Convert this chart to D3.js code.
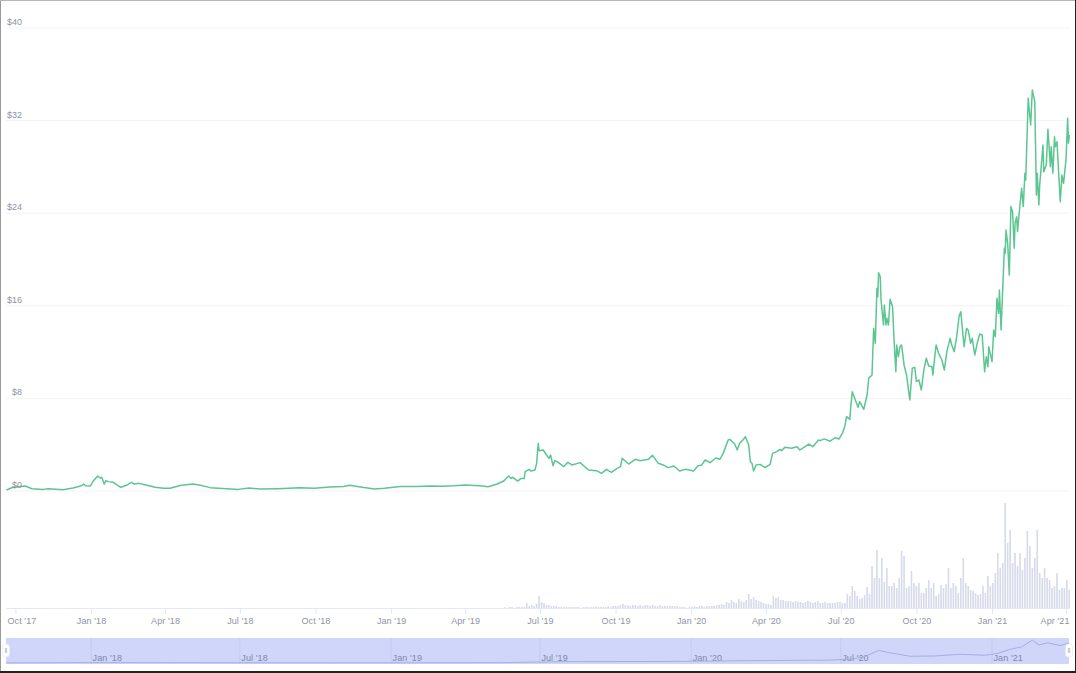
<!DOCTYPE html>
<html><head><meta charset="utf-8">
<script src="https://cdn.jsdelivr.net/npm/d3@7/dist/d3.min.js"></script>
<style>html,body{margin:0;padding:0;background:#fff}svg{display:block}text{font-family:"Liberation Sans",Arial,sans-serif}</style>
</head><body><svg id="c" width="1076" height="673"></svg>
<script>
// Day offsets since the first data day, and the price in USD on that day
const startDay = Date.UTC(2017, 8, 20);
const priceDaysEarly = [0,8,23,31,45,51,69,81,90,94,96,102,106,111,114,116,119,121,124,130,139,146,152,156,161,171,181,191,199,213,227,236,248,268,282,295,309,330,357,375,393,410,418,425,435,448,460,479,500,515,530,545,558,570];
const priceValuesEarly = [.09,.32,.43,.20,.14,.20,.11,.26,.43,.60,.46,.43,.89,1.30,1.12,1.18,.60,.89,.81,.75,.32,.49,.75,.60,.66,.49,.32,.23,.23,.49,.60,.49,.29,.20,.14,.26,.17,.20,.28,.24,.34,.38,.50,.42,.30,.17,.24,.39,.38,.43,.42,.45,.52,.48];
const priceDaysMid = [576,586,597,605,611,614,616,622,626,630,631,636,638,643,645,647,648,653,657,660,662,665,667,670,678,683,688,698,708,718,724,730,736,743,747,749,757,765,771,781,786,793,799,805,812,819,826,836,841,846,850,856,863,868,872,878,880,886,889,892,896,899,903,905,907,909,912,917,923,929,932,937,941,943,947,955,962,965,976,981,988,990,995,1002,1008,1013,1017,1020];
const priceValuesMid = [.46,.37,.60,.86,1.30,1.09,1.18,.86,1.09,1.09,1.67,1.87,1.73,1.81,2.39,4.12,3.48,3.54,3.11,2.82,3.11,2.19,2.62,2.53,2.10,2.48,2.25,2.45,1.81,1.76,1.53,1.87,1.61,1.96,2.10,2.82,2.33,2.74,2.62,2.74,3.08,2.39,2.25,2.02,2.16,1.73,1.87,1.73,2.16,2.25,2.68,2.45,2.85,2.74,3.25,4.41,4.46,4.06,3.54,4.12,4.41,4.69,3.97,2.53,2.39,1.73,2.25,2.30,2.02,2.30,3.25,3.40,3.60,3.49,3.77,3.69,3.83,3.54,4.06,3.83,4.41,4.35,4.50,4.30,4.60,4.50,5.00,5.60];
const priceDaysLate = [1022,1026,1027,1029,1032,1036,1038,1043,1047,1049,1053,1055,1057,1059,1060,1061,1063,1064,1067,1068,1070,1071,1073,1075,1078,1080,1082,1083,1085,1087,1089,1092,1095,1099,1102,1105,1107,1110,1113,1116,1119,1122,1126,1127,1130,1131,1134,1138,1141,1144,1148,1150,1153,1156,1159,1161,1165,1168,1170,1173,1175,1178,1181,1184,1187,1190,1192,1194,1195,1199,1201,1203,1205,1207,1208,1210,1214,1215,1216,1218,1220,1222,1224,1226,1227,1229,1230,1233,1235,1237,1239,1240,1243,1246,1248,1251,1253,1254,1256,1257,1261,1262,1265,1267,1270,1271,1273,1275,1276,1278,1282,1284,1286,1288,1289,1291,1292,1293];
const priceValuesLate = [6.42,6.19,7.14,8.58,8.00,7.23,7.72,7.06,8.29,9.73,10.02,14.05,12.76,17.51,16.79,18.86,18.52,16.50,14.34,16.07,14.34,14.92,14.34,16.56,15.93,12.76,10.31,12.61,11.60,12.47,12.61,10.89,10.02,7.86,10.60,10.68,9.45,9.59,8.73,10.45,11.46,10.80,10.74,10.02,12.04,12.61,11.89,11.32,10.45,12.04,13.19,12.61,12.04,13.33,15.12,15.49,12.47,14.05,13.91,12.76,13.19,11.75,12.76,13.56,13.48,10.31,11.60,10.74,12.47,11.17,13.91,13.33,16.65,15.35,17.37,13.91,20.97,20.53,22.55,21.40,18.66,24.57,24.13,20.97,23.13,23.70,22.41,24.71,26.15,24.57,27.45,26.87,33.93,31.62,34.65,33.64,25.57,27.45,24.71,26.44,29.89,27.59,28.17,31.25,28.02,29.75,27.45,30.61,29.75,30.18,24.99,27.30,26.58,27.96,28.60,32.20,30.04,30.76];
const priceDays = [...priceDaysEarly, ...priceDaysMid, ...priceDaysLate];
const priceValues = [...priceValuesEarly, ...priceValuesMid, ...priceValuesLate];

// Volume in USD millions, one value every third day from volumeStart
const volumeStart = 600, volumeStep = 3;
const volumeValues = [
0,0,50,0,50,50,0,50,50,50,50,250,100,150,100,200,600,300,250,150,
150,100,100,100,50,50,50,50,50,50,50,50,50,0,50,50,50,50,50,50,
50,50,50,50,100,50,100,100,100,150,200,150,150,100,150,150,100,150,100,150,
150,100,150,100,100,150,100,100,100,100,100,100,100,50,50,50,0,50,50,100,
50,100,100,50,100,100,100,100,150,150,200,150,300,250,400,300,250,450,350,300,
400,700,450,550,400,350,300,250,200,200,150,600,500,550,400,400,350,350,350,300,
350,300,300,250,300,350,300,250,300,350,250,250,300,250,250,250,250,300,300,250,
250,700,600,1100,850,600,450,500,650,1050,700,2100,1500,2900,1500,2500,1300,2000,1100,1100,
1250,1000,1500,2850,2600,1000,1100,1850,1250,1100,1250,750,750,1000,1400,1000,1250,600,700,1150,
1000,1200,2000,1000,1250,1100,750,1500,2500,1250,1100,900,850,750,650,700,1100,750,1600,1100,
1250,1750,2750,2000,2250,5250,3250,3900,2250,2750,2100,2750,1900,2500,3850,3100,2000,2500,3900,1750,
1500,2000,1500,1400,1000,1100,1750,900,1000,1000,1400,900];

// Smoothed overview series in the navigator
const navDays = [0,110,200,400,600,648,700,800,900,1000,1030,1045,1061,1075,1100,1130,1160,1190,1205,1220,1235,1248,1256,1267,1282,1293];
const navValues = [.2,.6,.4,.3,.4,1.5,2.1,2.2,3.4,4.3,6,10,18.8,15,10,10.5,13,11.5,14,20,24,34,27,30,26,30];

const yTicks = [0,8,16,24,32,40];
const xTickDates = [[2017,9],[2018,0],[2018,3],[2018,6],[2018,9],[2019,0],[2019,3],[2019,6],[2019,9],[2020,0],[2020,3],[2020,6],[2020,9],[2021,0],[2021,3]];
const navTickDates = [[2018,0],[2018,6],[2019,0],[2019,6],[2020,0],[2020,6],[2021,0]];
const months = ["Jan","Feb","Mar","Apr","May","Jun","Jul","Aug","Sep","Oct","Nov","Dec"];

const dayToDate = d => new Date(startDay + d * 864e5);
const fmt = d => `${months[d.getUTCMonth()]} '${String(d.getUTCFullYear()).slice(2)}`;
const toDate = ([y,m]) => new Date(Date.UTC(y,m,1));

const svg = d3.select("#c");
const x = d3.scaleUtc().domain([dayToDate(0), dayToDate(1293)]).range([6.4, 1069.3]);
const y = d3.scaleLinear().domain([0,40]).range([491,28]);
const yVol = d3.scaleLinear().domain([0,6000]).range([608,488]);
const yNav = d3.scaleLinear().domain([0,35]).range([663,639.5]);

// gridlines and price labels
const gridG = svg.append("g");
gridG.selectAll("line").data(yTicks).join("line")
  .attr("x1",6).attr("x2",1070).attr("y1",d=>y(d)).attr("y2",d=>y(d))
  .attr("stroke","#f3f3f6").attr("stroke-width",1);

// volume bars
svg.append("g").selectAll("rect").data(volumeValues).join("rect")
  .attr("x",(d,i)=>x(dayToDate(volumeStart+i*volumeStep))-0.8)
  .attr("width",1.6)
  .attr("y",d=>yVol(d)).attr("height",d=>608-yVol(d))
  .attr("fill","#d6daea");

// price line
svg.append("path").datum(priceDays)
  .attr("fill","none").attr("stroke","#5cc692").attr("stroke-width",1.5).attr("stroke-linejoin","round")
  .attr("d",d3.line().x(d=>x(dayToDate(d))).y((d,i)=>y(priceValues[i])));

gridG.raise();
svg.select("path").raise();

svg.append("g").selectAll("text").data(yTicks).join("text")
  .attr("x",22).attr("y",d=>y(d)-4).attr("dy","0.1em").attr("text-anchor","end")
  .attr("font-size",9).attr("fill","#8f93a3").text(d=>"$"+d);

// bottom axis
const axis = d3.axisBottom(x).tickValues(xTickDates.map(toDate)).tickFormat(fmt).tickSize(6).tickPadding(4);
const axG = svg.append("g").attr("transform","translate(0,608)").call(axis);
axG.select(".domain").attr("stroke","#e4e7f4").attr("d","M6,0.5H1070");
axG.selectAll(".tick line").attr("stroke","#e4e7f4");
axG.selectAll(".tick text").attr("font-size",9).attr("font-family",null).attr("fill","#8f93a3").attr("letter-spacing","0.1px");
axG.selectAll(".tick text").filter((d,i)=>i===0).attr("text-anchor","start").attr("x",-8.5);
axG.selectAll(".tick text").filter((d,i)=>i===xTickDates.length-1).attr("text-anchor","end").attr("x",3);

// navigator
svg.append("rect").attr("x",6).attr("y",638).attr("width",1063).attr("height",26).attr("fill","#cfd6f9");
const navG = svg.append("g").selectAll("g").data(navTickDates.map(toDate)).join("g");
navG.append("line").attr("x1",d=>x(d)).attr("x2",d=>x(d)).attr("y1",638).attr("y2",664).attr("stroke","#c2cbf0");
navG.append("text").attr("x",d=>x(d)+1.5).attr("y",661).attr("font-size",9).attr("fill","#7f88ad").attr("letter-spacing","0.1px").text(fmt);
svg.append("path").datum(navDays)
  .attr("fill","none").attr("stroke","#a5afe2").attr("stroke-width",1)
  .attr("d",d3.line().x(d=>x(dayToDate(d))).y((d,i)=>yNav(navValues[i])));
const handles = svg.append("g").selectAll("g").data([6,1069]).join("g");
handles.append("rect").attr("x",d=>d-3.5).attr("y",644).attr("width",7).attr("height",13).attr("rx",3)
  .attr("fill","#fff").attr("stroke","#e6e8f2").attr("stroke-width",.6);
handles.append("rect").attr("x",d=>d-1.2).attr("y",648).attr("width",2.4).attr("height",5).attr("fill","#c9cde0");

// screenshot frame
svg.append("line").attr("x1",0.5).attr("x2",0.5).attr("y1",0).attr("y2",673).attr("stroke","#9a9a9a");
svg.append("line").attr("x1",0).attr("x2",1076).attr("y1",0.5).attr("y2",0.5).attr("stroke","#b5b5b5");
svg.append("line").attr("x1",1075.5).attr("x2",1075.5).attr("y1",0).attr("y2",673).attr("stroke","#222");
svg.append("line").attr("x1",0).attr("x2",1076).attr("y1",672).attr("y2",672).attr("stroke","#222").attr("stroke-width",2);
</script></body></html>
